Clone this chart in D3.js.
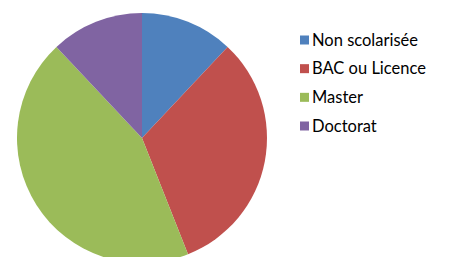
<!DOCTYPE html>
<html>
<head>
<meta charset="utf-8">
<script src="https://cdn.jsdelivr.net/npm/d3@7"></script>
<style>
  html, body { margin: 0; padding: 0; background: #fff; }
  svg { display: block; }
  .legend text { font-family: Lato, "Open Sans", sans-serif; font-size: 16.5px; fill: #000; }
</style>
</head>
<body>
<svg id="chart" width="456" height="257"></svg>
<script>
// ── Data ──────────────────────────────────────────────────────────────────────

const categories = ['Non scolarisée', 'BAC ou Licence', 'Master', 'Doctorat'];
const values     = [12, 32, 44, 12];
const colors     = ['#4F81BD', '#C0504D', '#9BBB59', '#8064A2'];

// ── Layout ────────────────────────────────────────────────────────────────────

const cx = 142, cy = 138, radius = 125;

const svg = d3.select('#chart');

const color = d3.scaleOrdinal().domain(categories).range(colors);

const pie = d3.pie().sort(null).value(d => d.value);
const arc = d3.arc().innerRadius(0).outerRadius(radius);

const slices = categories.map((c, i) => ({ name: c, value: values[i] }));

// ── Pie ───────────────────────────────────────────────────────────────────────

svg.append('g')
  .attr('transform', `translate(${cx},${cy})`)
  .selectAll('path')
  .data(pie(slices))
  .join('path')
    .attr('d', arc)
    .attr('fill', d => color(d.data.name));

// ── Legend ────────────────────────────────────────────────────────────────────

const legendY = d3.scalePoint().domain(categories).range([40, 126]);

const item = svg.append('g')
  .attr('class', 'legend')
  .selectAll('g')
  .data(categories)
  .join('g')
    .attr('transform', d => `translate(300,${legendY(d)})`);

item.append('rect')
  .attr('x', 0).attr('y', -4.5)
  .attr('width', 9).attr('height', 9)
  .attr('fill', d => color(d));

item.append('text')
  .attr('x', 12)
  .attr('dy', '0.35em')
  .text(d => d);
</script>
</body>
</html>
